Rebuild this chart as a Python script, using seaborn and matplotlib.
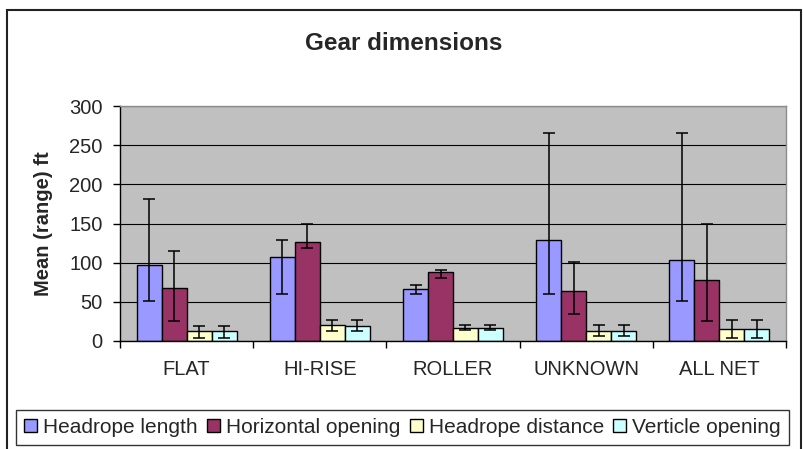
import numpy as np
import pandas as pd
import matplotlib
matplotlib.use('Agg')
import matplotlib.pyplot as plt
from matplotlib.patches import Rectangle
import seaborn as sns

sns.set_style('ticks')
plt.rcParams['font.family'] = ['Liberation Sans', 'DejaVu Sans']

gears = ['FLAT', 'HI-RISE', 'ROLLER', 'UNKNOWN', 'ALL NET']
series = ['Headrope length', 'Horizontal opening', 'Headrope distance', 'Verticle opening']
colors = ['#9999FF', '#993366', '#FFFFCC', '#CCFFFF']

# mean and range (low / high) per gear
headrope_len = [97, 107, 66, 129, 103]
headrope_len_lo = [51, 60, 60, 60, 51]
headrope_len_hi = [181, 129, 71, 265, 265]

horiz_open = [68, 127, 88, 64, 78]
horiz_open_lo = [25, 119, 80, 35, 25]
horiz_open_hi = [115, 150, 91, 101, 150]

headrope_dist = [13, 21, 17, 13, 15]
headrope_dist_lo = [4, 13, 14, 7, 4]
headrope_dist_hi = [19, 27, 21, 21, 27]

vert_open = [13, 19, 17, 13, 15]
vert_open_lo = [4, 13, 14, 7, 4]
vert_open_hi = [19, 27, 21, 21, 27]

means = [headrope_len, horiz_open, headrope_dist, vert_open]
lows = [headrope_len_lo, horiz_open_lo, headrope_dist_lo, vert_open_lo]
highs = [headrope_len_hi, horiz_open_hi, headrope_dist_hi, vert_open_hi]

df = pd.DataFrame({
    'gear': gears * len(series),
    'series': np.repeat(series, len(gears)),
    'mean': np.concatenate(means),
})

fig = plt.figure(figsize=(8.04, 4.49), dpi=100)
ax = fig.add_axes([120/804, 1-341/449, 666/804, 235/449])

sns.barplot(data=df, x='gear', y='mean', hue='series', order=gears, hue_order=series,
            palette=colors, errorbar=None, width=0.75, edgecolor='black', linewidth=1,
            saturation=1, legend=False, ax=ax)

# range bars
for cont, lo, hi in zip(ax.containers, lows, highs):
    xs = np.array([p.get_x() + p.get_width()/2 for p in cont])
    ys = np.array([p.get_height() for p in cont])
    ax.errorbar(xs, ys, yerr=[ys - np.array(lo), np.array(hi) - ys], fmt='none',
                ecolor='black', elinewidth=1.1, capsize=4.5, capthick=1.1, zorder=5)

ax.set_facecolor('#C0C0C0')
ax.set_ylim(0, 300)
ax.set_xlim(-0.5, 4.5)
ax.set_yticks(range(0, 301, 50))
ax.yaxis.grid(True, color='black', lw=0.8)
ax.set_axisbelow(True)
ax.set_xlabel('')
ax.set_ylabel('')

ax.set_xticks(range(len(gears)))
ax.set_xticklabels(gears)
ax.set_xticks(np.arange(-0.5, 5, 1), minor=True)
ax.tick_params(axis='x', which='major', length=0, pad=14, labelsize=14.5)
ax.tick_params(axis='x', which='minor', length=5, width=1, color='black')
ax.tick_params(axis='y', length=5, width=1, color='black', pad=7.5, labelsize=14.5)

for s in ['left', 'bottom']:
    ax.spines[s].set_color('black')
    ax.spines[s].set_linewidth(1)
for s in ['top', 'right']:
    ax.spines[s].set_visible(True)
    ax.spines[s].set_color('#8C8C8C')
    ax.spines[s].set_linewidth(1)

fig.text(404/804, 1-50/449, 'Gear dimensions', ha='center', va='baseline',
         fontsize=17.5, fontweight='bold')
fig.text(44/804, 1-223.5/449, 'Mean (range) ft', ha='center', va='center',
         rotation=90, fontsize=14.5, fontweight='bold')

leg = fig.legend(ax.containers, series, loc='center', bbox_to_anchor=(402.5/804, 1-427.5/449),
                 ncol=4, frameon=True, fancybox=False, edgecolor='black', fontsize=15,
                 handlelength=0.63, handleheight=0.63, handletextpad=0.28,
                 columnspacing=0.45, borderpad=0.4, borderaxespad=0)
leg.get_frame().set_linewidth(1)

# outer chart border
fig.patches.append(Rectangle((7/804, -0.05), 794/804, 1-10/449+0.05, transform=fig.transFigure,
                             fill=False, edgecolor='#222222', lw=1.5))

fig.savefig('out.png', dpi=100)
